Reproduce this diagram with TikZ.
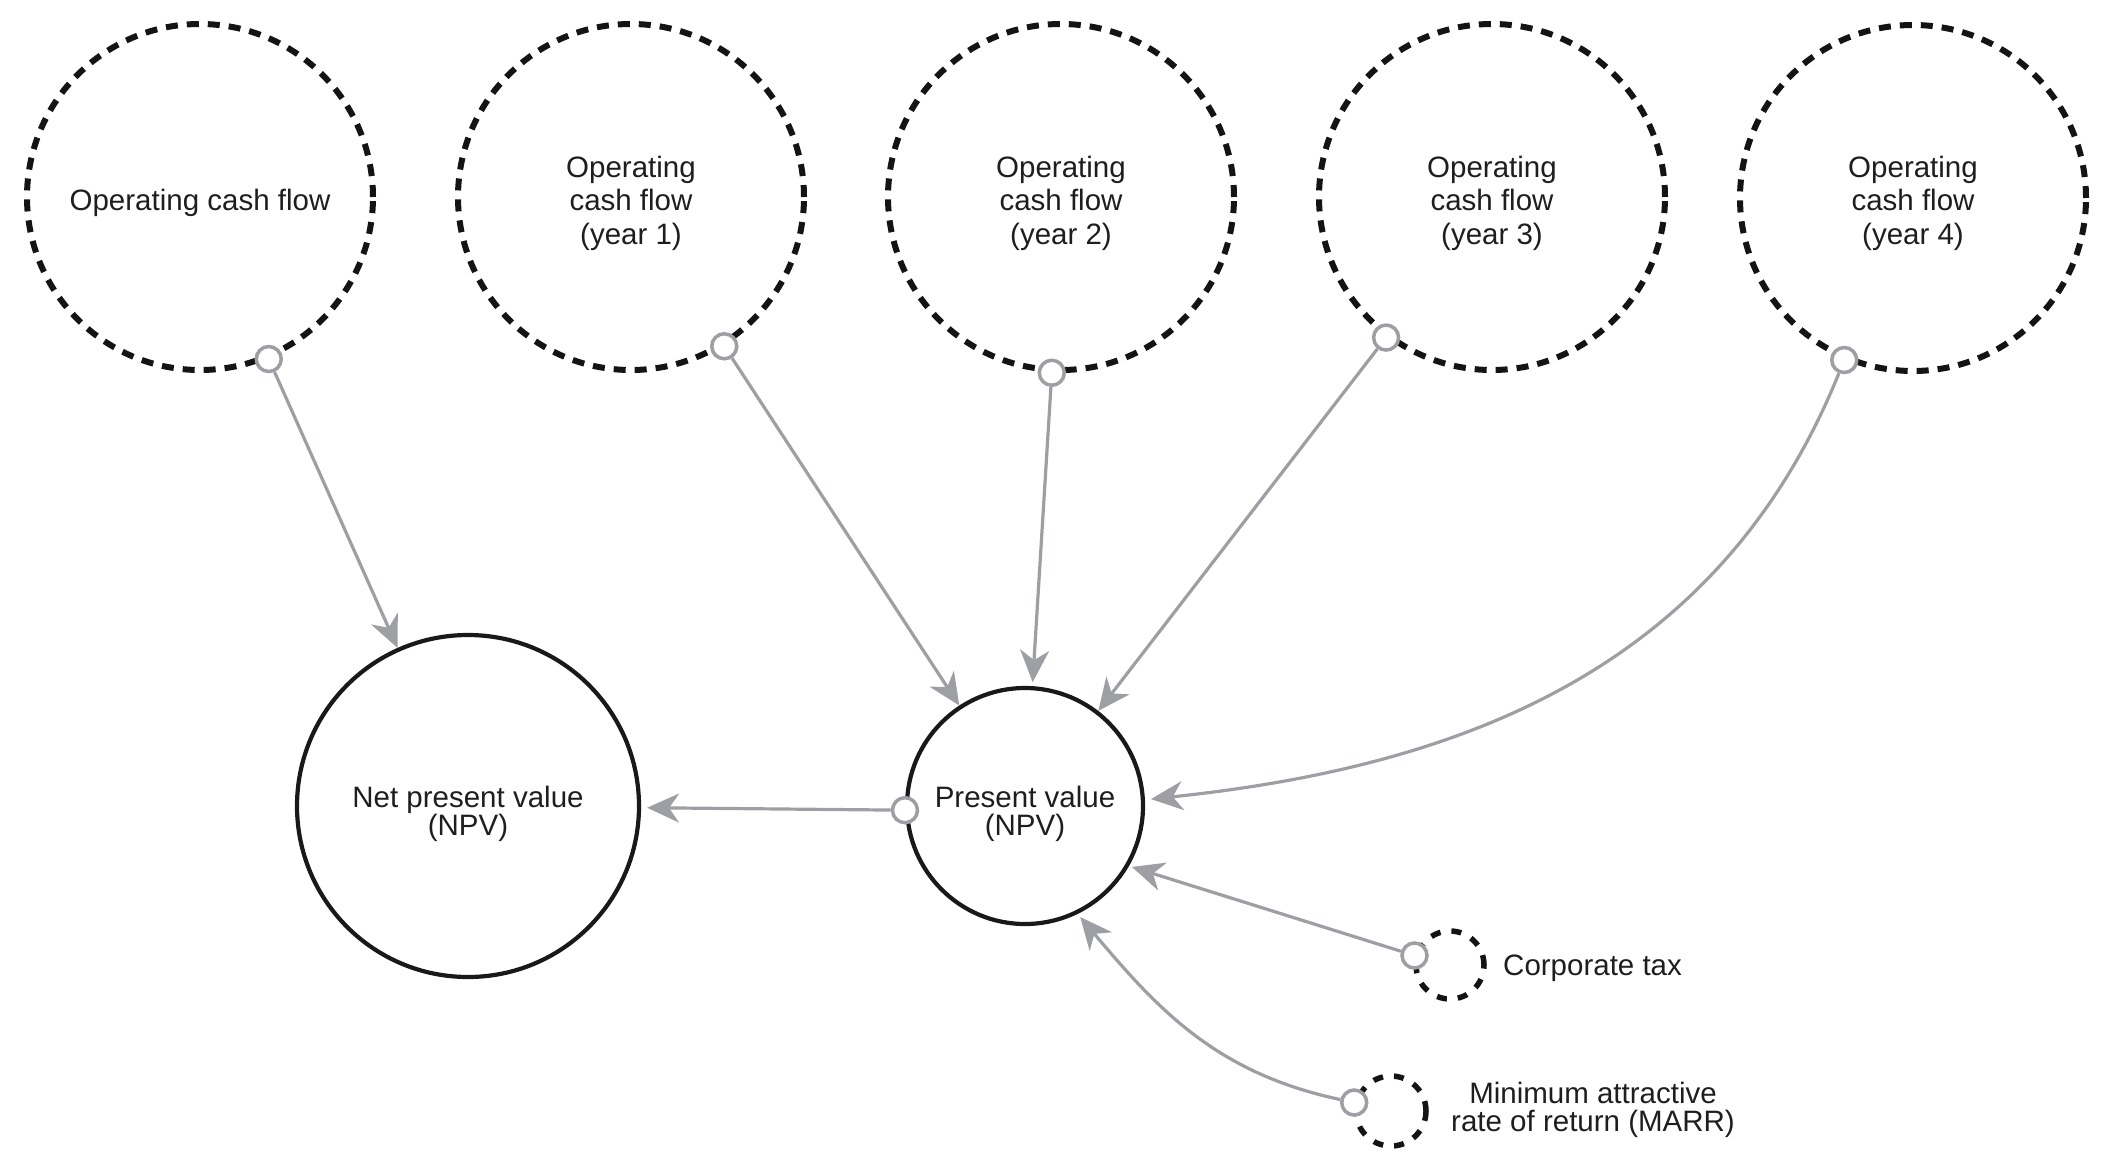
\documentclass[tikz,border=0pt]{standalone}
\usepackage{fontspec}
\setmainfont{Liberation Sans}
\usetikzlibrary{arrows.meta}
\definecolor{conn}{RGB}{158,159,164}
\definecolor{txt}{RGB}{30,30,30}
\tikzset{
  lblfont/.style={font=\fontsize{29.5}{33.5}\selectfont, text=txt},
  tightfont/.style={font=\fontsize{29.5}{28.5}\selectfont, text=txt},
  dcirc/.style={circle, draw=black!92, line width=6pt, dash pattern=on 12pt off 9pt,
    minimum size=#1, inner sep=0pt},
  scirc/.style={circle, draw=black!90, line width=4.2pt, minimum size=#1, inner sep=0pt},
  port/.style={circle, draw=conn, fill=white, line width=3.5pt, minimum size=25pt, inner sep=0pt},
  link/.style={draw=conn, line width=3.2pt, -{Stealth[length=32pt,width=29pt,inset=10pt]}},
  lbl/.style={inner sep=0pt, align=center, lblfont},
  tlbl/.style={inner sep=0pt, align=center, tightfont}
}
\begin{document}
\begin{tikzpicture}[x=1pt,y=-1pt]
\useasboundingbox (0,0) rectangle (2115,1173);
% top operating cash flow circles
\node[dcirc=346pt] (c1) at (200,197) {};
\node[dcirc=346pt] (c2) at (631,197) {};
\node[dcirc=346pt] (c3) at (1061,197) {};
\node[dcirc=346pt] (c4) at (1492,197) {};
\node[dcirc=346pt] (c5) at (1913,198) {};
\node[lbl] (t1) at (200,203) {Operating cash flow};
\node[lbl] (t2) at (631,203) {Operating\\cash flow\\(year 1)};
\node[lbl] (t3) at (1061,203) {Operating\\cash flow\\(year 2)};
\node[lbl] (t4) at (1492,203) {Operating\\cash flow\\(year 3)};
\node[lbl] (t5) at (1913,203) {Operating\\cash flow\\(year 4)};
% main circles
\node[scirc=342pt] (npv) at (468,806) {};
\node[tlbl] (npvt) at (468,814) {Net present value\\(NPV)};
\node[scirc=236pt] (pv) at (1025,806) {};
\node[tlbl] (pvt) at (1025,814) {Present value\\(NPV)};
% small inputs
\node[dcirc=68pt, dash pattern=on 10pt off 11pt, line width=5.5pt] (tax) at (1450,965) {};
\node[lbl, anchor=west] (taxt) at (1503,968) {Corporate tax};
\node[dcirc=70pt, dash pattern=on 10pt off 11pt, line width=5.5pt] (marr) at (1391,1111) {};
\node[tlbl] (marrt) at (1593,1110) {Minimum attractive\\rate of return (MARR)};
% ports
\node[port] (p1) at (c1.-67.5) {};
\node[port] (p2) at (c2.-58) {};
\node[port] (p3) at (c3.-93.5) {};
\node[port] (p4) at (c4.-127) {};
\node[port] (p5) at (c5.-113) {};
\node[port] (pp) at (pv.182) {};
\node[port] (pt) at (tax.165) {};
\node[port] (pm) at (marr.167) {};
% connectors
\draw[link] (p1) -- (npv);
\draw[link] (p2) -- (pv);
\draw[link, shorten >=4pt] (p3) -- (pv);
\draw[link] (p4) -- (pv);
\draw[link, shorten >=6pt] (p5) to[out=-112, in=6] (pv.3);
\draw[link, shorten >=6pt] (pp) -- (npv);
\draw[link, shorten >=3pt] (pt) -- (pv.-30);
\draw[link, shorten >=4pt] (pm) to[out=168, in=-50] (pv.-64);
\end{tikzpicture}
\end{document}
